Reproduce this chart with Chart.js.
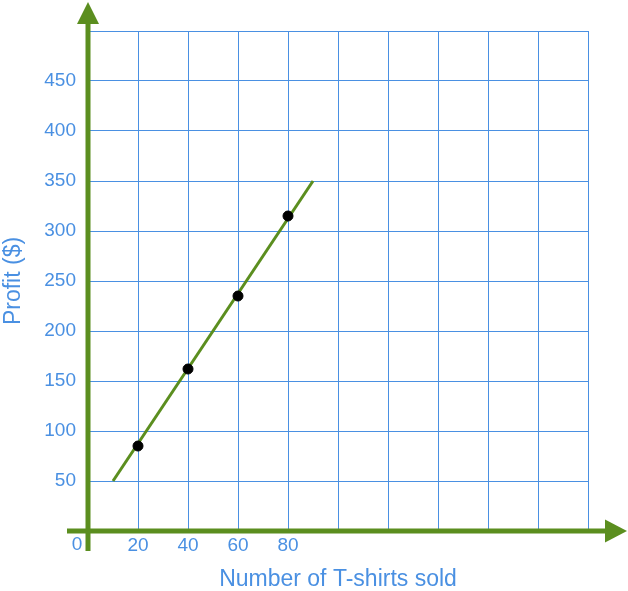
<!DOCTYPE html>
<html lang="en">
  <head>
    <meta charset="utf-8" />
    <script src="https://cdn.jsdelivr.net/npm/chart.js"></script>
    <title>Profit</title>
    <style>
      body {
        margin: 0;
        padding: 0;
        background: #ffffff;
      }

      #wrap {
        width: 628px;
        height: 591px;
      }
    </style>
  </head>
  <body>
    <div id="wrap">
      <canvas id="myChart" width="628" height="591"></canvas>
    </div>

    <script>
      // data
      var shirtsSold = [20, 40, 60, 80];
      var profit = [85, 162, 235, 315];
      var trendX = [10, 90];
      var trendY = [50, 350];
      var xTickLabels = [20, 40, 60, 80];
      var yTickLabels = [50, 100, 150, 200, 250, 300, 350, 400, 450];

      var blue = '#4a90e2';
      var green = '#5b8e1f';
      var fontFamily = '"Liberation Sans", Arial, sans-serif';

      // arrows on the axes and the lone "0" label
      var axisArrows = {
        id: 'axisArrows',
        afterDraw: function (chart) {
          var ctx = chart.ctx;
          var x0 = chart.scales.x.getPixelForValue(0);
          var y0 = chart.scales.y.getPixelForValue(0);
          ctx.save();
          ctx.strokeStyle = green;
          ctx.fillStyle = green;
          ctx.lineWidth = 5;

          // vertical axis
          ctx.beginPath();
          ctx.moveTo(x0, y0 + 20);
          ctx.lineTo(x0, 22);
          ctx.stroke();
          ctx.beginPath();
          ctx.moveTo(x0, 2);
          ctx.lineTo(x0 - 11, 24);
          ctx.lineTo(x0 + 11, 24);
          ctx.closePath();
          ctx.fill();

          // horizontal axis
          ctx.beginPath();
          ctx.moveTo(x0 - 21, y0);
          ctx.lineTo(607, y0);
          ctx.stroke();
          ctx.beginPath();
          ctx.moveTo(627, y0);
          ctx.lineTo(605, y0 - 11.5);
          ctx.lineTo(605, y0 + 11.5);
          ctx.closePath();
          ctx.fill();

          ctx.fillStyle = blue;
          ctx.font = '19px ' + fontFamily;
          ctx.textAlign = 'center';
          ctx.textBaseline = 'middle';
          ctx.fillText('0', x0 - 11, y0 + 14);
          ctx.restore();
        }
      };

      var ctx = document.getElementById('myChart').getContext('2d');
      var myChart = new Chart(ctx, {
        type: 'scatter',
        data: {
          datasets: [{
            label: 'Data',
            data: shirtsSold.map(function (x, i) { return { x: x, y: profit[i] }; }),
            backgroundColor: '#000000',
            borderColor: '#000000',
            pointRadius: 5,
            pointHoverRadius: 5,
            order: 0
          }, {
            label: 'Trend',
            type: 'line',
            data: trendX.map(function (x, i) { return { x: x, y: trendY[i] }; }),
            borderColor: green,
            borderWidth: 3,
            pointRadius: 0,
            fill: false,
            order: 1
          }]
        },
        options: {
          responsive: false,
          animation: false,
          devicePixelRatio: 1,
          layout: {
            padding: { left: 0, top: 31, right: 40, bottom: 0 }
          },
          plugins: {
            legend: { display: false },
            tooltip: { enabled: false }
          },
          scales: {
            x: {
              type: 'linear',
              min: 0,
              max: 200,
              afterFit: function (scale) { scale.height = 60; },
              grid: { color: blue, lineWidth: 1, drawTicks: false },
              border: { display: false },
              ticks: {
                stepSize: 20,
                autoSkip: false,
                maxRotation: 0,
                padding: 3,
                color: blue,
                font: { size: 19, family: fontFamily },
                callback: function (v) {
                  return xTickLabels.indexOf(v) >= 0 ? String(v) : '';
                }
              },
              title: {
                display: true,
                text: 'Number of T-shirts sold',
                color: blue,
                font: { size: 23, family: fontFamily, lineHeight: 1 },
                padding: { top: 0, bottom: 0 }
              }
            },
            y: {
              type: 'linear',
              min: 0,
              max: 500,
              afterFit: function (scale) { scale.width = 88; },
              grid: { color: blue, lineWidth: 1, drawTicks: false },
              border: { display: false },
              ticks: {
                stepSize: 50,
                autoSkip: false,
                padding: 12,
                color: blue,
                font: { size: 19, family: fontFamily },
                callback: function (v) {
                  return yTickLabels.indexOf(v) >= 0 ? String(v) : '';
                }
              },
              title: {
                display: true,
                text: 'Profit ($)',
                color: blue,
                font: { size: 23, family: fontFamily, lineHeight: 1 },
                padding: { top: 2, bottom: 0 }
              }
            }
          }
        },
        plugins: [axisArrows]
      });
    </script>
  </body>
</html>
